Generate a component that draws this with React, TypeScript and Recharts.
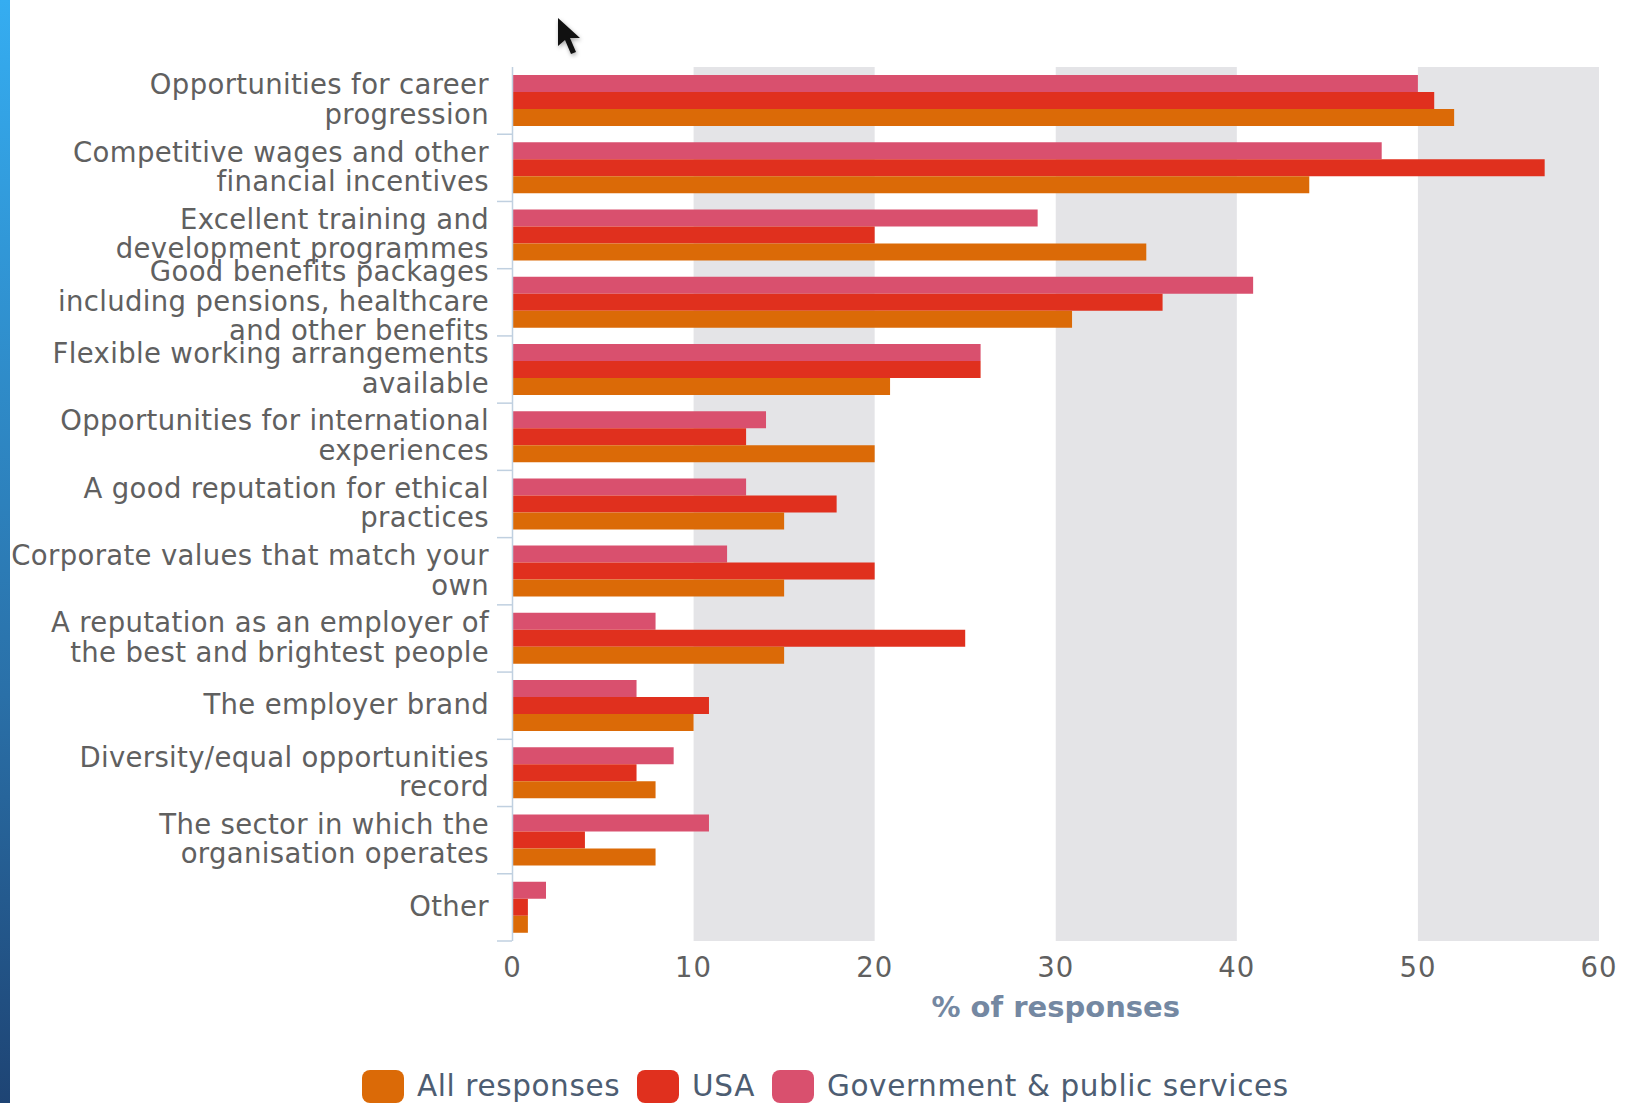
import { Bar, BarChart, ReferenceArea, XAxis, YAxis } from 'recharts';

const CATEGORIES = [
  'Opportunities for career\nprogression',
  'Competitive wages and other\nfinancial incentives',
  'Excellent training and\ndevelopment programmes',
  'Good benefits packages\nincluding pensions, healthcare\nand other benefits',
  'Flexible working arrangements\navailable',
  'Opportunities for international\nexperiences',
  'A good reputation for ethical\npractices',
  'Corporate values that match your\nown',
  'A reputation as an employer of\nthe best and brightest people',
  'The employer brand',
  'Diversity/equal opportunities\nrecord',
  'The sector in which the\norganisation operates',
  'Other',
];
const ALL_RESPONSES = [52, 44, 35, 30.9, 20.85, 20, 15, 15, 15, 10, 7.9, 7.9, 0.85];
const USA = [50.9, 57, 20, 35.9, 25.85, 12.9, 17.9, 20, 25, 10.85, 6.85, 4, 0.85];
const GOVERNMENT = [50, 48, 29, 40.9, 25.85, 14, 12.9, 11.85, 7.9, 6.85, 8.9, 10.85, 1.85];
const X_TICKS = [0, 10, 20, 30, 40, 50, 60];
const SHADED_BANDS = [[10, 20], [30, 40], [50, 60]];
const LEGEND_ITEMS = [
  { name: 'All responses', color: '#DB6A07' },
  { name: 'USA', color: '#E0301E' },
  { name: 'Government & public services', color: '#D9506E' },
];

const data = CATEGORIES.map((category, i) => ({
  category,
  all: ALL_RESPONSES[i],
  usa: USA[i],
  gov: GOVERNMENT[i],
}));

const WIDTH = 1630;
const HEIGHT = 1103;
const PLOT_TOP = 67;
const PLOT_BOTTOM = 941;
const BAND = (PLOT_BOTTOM - PLOT_TOP) / CATEGORIES.length;
const FONT = '"DejaVu Sans", sans-serif';
const LINE_HEIGHT = 29.6;

// Multi-line category label plus the tick mark on the lower band edge
function CategoryTick({ x, y, payload }: any) {
  const lines = String(payload.value).split('\n');
  const startY = y - ((lines.length - 1) * LINE_HEIGHT) / 2;
  return (
    <g>
      <line x1={x + 8} x2={x + 23} y1={y + BAND / 2} y2={y + BAND / 2} stroke="#C0D0E0" strokeWidth={1.5} />
      <text
        x={x}
        y={startY}
        textAnchor="end"
        fill="#606060"
        fontFamily={FONT}
        fontSize={27.5}
        letterSpacing={0.35}
      >
        {lines.map((line, i) => (
          <tspan key={i} x={x} y={startY + i * LINE_HEIGHT} dy={8.5}>
            {line}
          </tspan>
        ))}
      </text>
    </g>
  );
}

export default function App() {
  return (
    <div style={{ position: 'absolute', left: 0, top: 0, width: WIDTH, height: HEIGHT, background: '#fff', overflow: 'hidden' }}>
      <div
        style={{
          position: 'absolute',
          left: 0,
          top: 0,
          width: 10,
          height: HEIGHT,
          background: 'linear-gradient(to bottom, #35ADF1 0%, #2A70A8 63%, #1E4474 100%)',
        }}
      />
      <BarChart
        width={WIDTH}
        height={HEIGHT}
        data={data}
        layout="vertical"
        barSize={17}
        barGap={0}
        barCategoryGap={8}
        margin={{ top: PLOT_TOP, right: 31, bottom: 0, left: 0 }}
      >
        <XAxis
          type="number"
          domain={[0, 60]}
          ticks={X_TICKS}
          height={HEIGHT - PLOT_BOTTOM}
          axisLine={false}
          tickLine={false}
          tickMargin={10}
          tick={{ fill: '#606060', fontFamily: FONT, fontSize: 27.5, letterSpacing: 1 }}
          label={{
            value: '% of responses',
            position: 'insideTop',
            offset: 55,
            fill: '#7488A2',
            fontFamily: FONT,
            fontSize: 29,
            fontWeight: 'bold',
          }}
        />
        <YAxis
          type="category"
          dataKey="category"
          width={512.5}
          interval={0}
          axisLine={{ stroke: '#C0D0E0', strokeWidth: 1.5 }}
          tickLine={false}
          tickMargin={17.5}
          tick={<CategoryTick />}
        />
        {SHADED_BANDS.map(([from, to]) => (
          <ReferenceArea key={from} x1={from} x2={to} fill="#E4E4E7" fillOpacity={1} stroke="none" />
        ))}
        <Bar dataKey="gov" name="Government & public services" fill="#D9506E" isAnimationActive={false} />
        <Bar dataKey="usa" name="USA" fill="#E0301E" isAnimationActive={false} />
        <Bar dataKey="all" name="All responses" fill="#DB6A07" isAnimationActive={false} />
      </BarChart>
      <div
        style={{
          position: 'absolute',
          left: 362,
          top: 1070,
          height: 33,
          display: 'flex',
          alignItems: 'center',
          fontFamily: FONT,
          fontSize: 29.5,
          lineHeight: '33px',
          letterSpacing: 0.6,
          color: '#4D5D72',
          whiteSpace: 'nowrap',
        }}
      >
        {LEGEND_ITEMS.map((item) => (
          <span key={item.name} style={{ display: 'flex', alignItems: 'center', marginRight: 17 }}>
            <span style={{ width: 42, height: 33, borderRadius: 8, background: item.color, marginRight: 13 }} />
            {item.name}
          </span>
        ))}
      </div>
      {/* mouse pointer */}
      <svg
        style={{ position: 'absolute', left: 556, top: 16, filter: 'drop-shadow(1px 2px 2px rgba(0,0,0,0.35))' }}
        width={36}
        height={50}
      >
        <path d="M2 2 L2 30 L9 24 L15 38 L20 36 L14 22 L24 22 Z" fill="#111" />
      </svg>
    </div>
  );
}
